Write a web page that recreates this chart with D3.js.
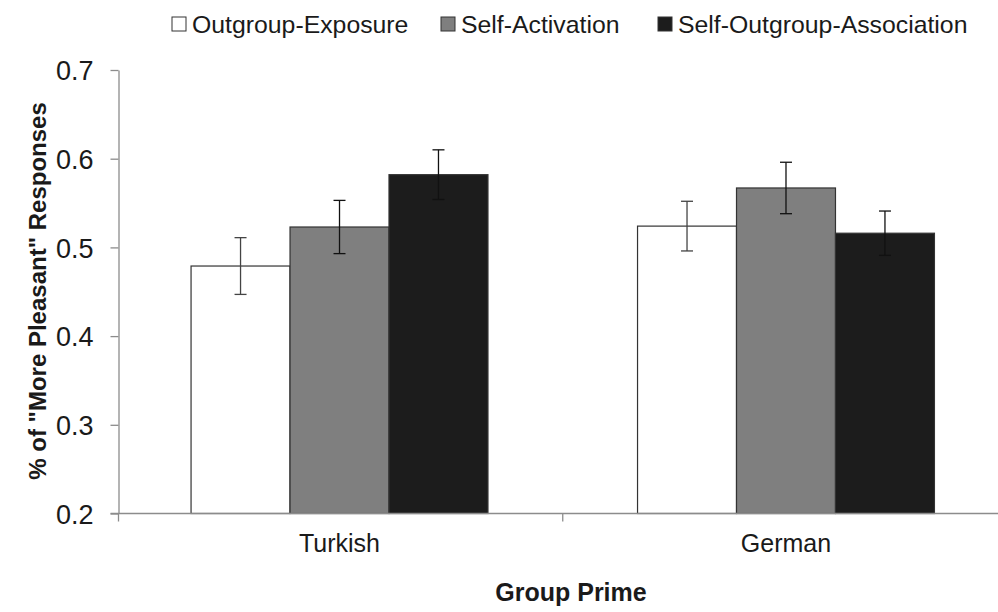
<!DOCTYPE html>
<html><head><meta charset="utf-8">
<script src="https://cdn.jsdelivr.net/npm/d3@7"></script>
<style>body{margin:0;background:#fff}svg{display:block}text{font-family:"Liberation Sans",Arial,sans-serif}</style>
</head><body><svg id="c" width="998" height="612"></svg>
<script>
const categories = ["Turkish", "German"];
const seriesNames = ["Outgroup-Exposure", "Self-Activation", "Self-Outgroup-Association"];
const seriesColors = ["#ffffff", "#7f7f7f", "#1c1c1c"];
const outgroupExposure = [0.479, 0.524];
const selfActivation = [0.523, 0.567];
const selfOutgroupAssociation = [0.582, 0.516];
const errOutgroupExposure = [0.032, 0.028];
const errSelfActivation = [0.030, 0.029];
const errSelfOutgroupAssociation = [0.028, 0.025];
const yTicks = [0.2, 0.3, 0.4, 0.5, 0.6, 0.7];

const values = [outgroupExposure, selfActivation, selfOutgroupAssociation];
const errors = [errOutgroupExposure, errSelfActivation, errSelfOutgroupAssociation];

const svg = d3.select("#c");
const L = 118.5, R = 1007, T = 70, B = 513.5;
const y = d3.scaleLinear().domain([0.2, 0.7]).range([B, T]);
const x0 = d3.scaleBand().domain(categories).range([L, R]).paddingInner(0.335).paddingOuter(0.1625);
const x1 = d3.scaleBand().domain(seriesNames).range([0, x0.bandwidth()]);

// axes
const axisColor = "#8c8c8c";
const yAxis = svg.append("g").attr("transform", `translate(${L},0)`)
  .call(d3.axisLeft(y).tickValues(yTicks).tickFormat(d3.format(".1f")).tickSize(8).tickSizeOuter(0));
yAxis.select(".domain").attr("stroke", axisColor).attr("stroke-width", 1.3);
yAxis.selectAll(".tick line").attr("stroke", axisColor).attr("stroke-width", 1.3);
yAxis.selectAll(".tick text").attr("font-size", 27).attr("fill", "#1a1a1a").attr("x", -25).attr("dy", "0.36em");

// bars
const groups = svg.append("g").selectAll("g").data(categories).join("g")
  .attr("transform", d => `translate(${x0(d)},0)`);
seriesNames.forEach((s, si) => {
  groups.append("rect")
    .attr("x", x1(s)).attr("width", x1.bandwidth())
    .attr("y", (d, ci) => y(values[si][ci]))
    .attr("height", (d, ci) => B - y(values[si][ci]))
    .attr("fill", seriesColors[si]).attr("stroke", "#333").attr("stroke-width", 1.2);
});
// error bars
seriesNames.forEach((s, si) => {
  groups.each(function(d, ci) {
    const g = d3.select(this);
    const cx = x1(s) + x1.bandwidth() / 2;
    const v = values[si][ci], e = errors[si][ci];
    const col = si === 0 ? "#444" : "#111";
    g.append("line").attr("x1", cx).attr("x2", cx).attr("y1", y(v + e)).attr("y2", y(v - e)).attr("stroke", col).attr("stroke-width", 1.3);
    [v + e, v - e].forEach(t => g.append("line").attr("x1", cx - 6).attr("x2", cx + 6).attr("y1", y(t)).attr("y2", y(t)).attr("stroke", col).attr("stroke-width", 1.3));
  });
});

// x axis
const xb = svg.append("g");
xb.append("line").attr("x1", L - 8).attr("x2", R).attr("y1", B).attr("y2", B).attr("stroke", axisColor).attr("stroke-width", 1.3);
const tickXs = [L, (x0(categories[0]) + x0.bandwidth() + x0(categories[1])) / 2, R];
tickXs.forEach(tx => xb.append("line").attr("x1", tx).attr("x2", tx).attr("y1", B).attr("y2", B + 8).attr("stroke", axisColor).attr("stroke-width", 1.3));
xb.selectAll("text.cat").data(categories).join("text").attr("class", "cat")
  .attr("x", d => x0(d) + x0.bandwidth() / 2).attr("y", 552)
  .attr("text-anchor", "middle").attr("font-size", 25).attr("fill", "#1a1a1a").text(d => d);

// axis titles
svg.append("text").attr("x", 571).attr("y", 601).attr("text-anchor", "middle")
  .attr("font-size", 25).attr("font-weight", "bold").attr("fill", "#1a1a1a").text("Group Prime");
svg.append("text").attr("transform", "translate(46,291) rotate(-90)").attr("text-anchor", "middle")
  .attr("font-size", 24).attr("font-weight", "bold").attr("fill", "#1a1a1a").text('% of "More Pleasant" Responses');

// legend
const legX = [172, 441, 658];
const leg = svg.append("g");
seriesNames.forEach((s, i) => {
  leg.append("rect").attr("x", legX[i]).attr("y", 17).attr("width", 14).attr("height", 14)
    .attr("fill", seriesColors[i]).attr("stroke", "#333").attr("stroke-width", 1);
  leg.append("text").attr("x", legX[i] + 20).attr("y", 33).attr("font-size", 24.8).attr("fill", "#1a1a1a").text(s);
});
</script></body></html>
